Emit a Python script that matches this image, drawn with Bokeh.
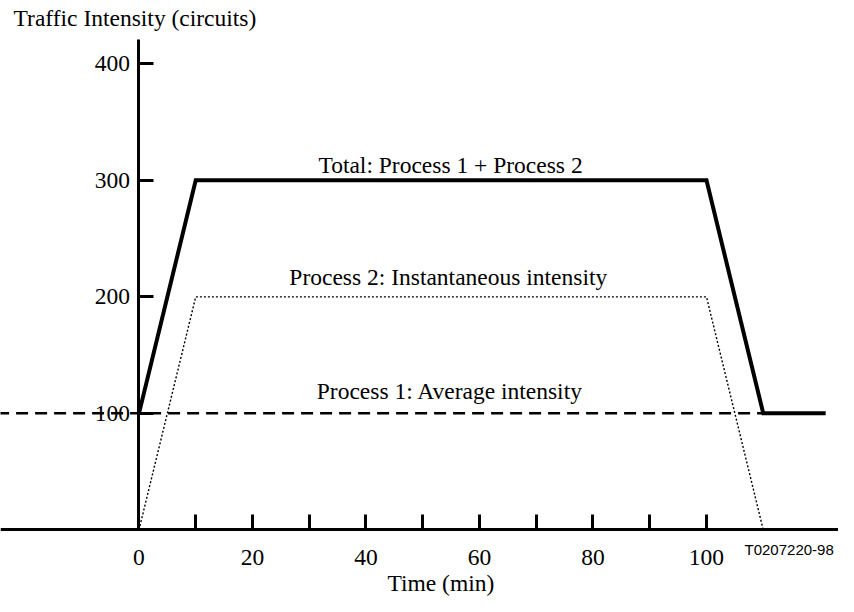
from bokeh.plotting import figure
from bokeh.models import LinearAxis, FixedTicker, Range1d, Label
from bokeh.embed import file_html
from bokeh.resources import INLINE

# Data
total_x = [0, 10, 100, 110, 121]
total_y = [100, 300, 300, 100, 100]
p2_x = [0, 10, 100, 110]
p2_y = [0, 200, 200, 0]
p1_x = [-25, 110]
p1_y = [100, 100]
x_ticks = [0, 10, 20, 30, 40, 50, 60, 70, 80, 90, 100]
x_tick_labels = {10: "", 30: "", 50: "", 70: "", 90: ""}
y_ticks = [100, 200, 300, 400]

SERIF = "Liberation Serif"
FS = "23.5px"

p = figure(width=838, height=596, x_range=Range1d(-24.4, 123.26), y_range=Range1d(-57.2, 454.4),
           output_backend="svg", toolbar_location=None,
           x_axis_location=None, y_axis_location=None, min_border=0)
p.grid.visible = False
p.outline_line_color = None
p.background_fill_color = "white"
p.border_fill_color = "white"

xaxis = LinearAxis(fixed_location=0, ticker=FixedTicker(ticks=x_ticks))
xaxis.major_label_overrides = x_tick_labels
yaxis = LinearAxis(fixed_location=0, ticker=FixedTicker(ticks=y_ticks), bounds=(0, 421))
for ax in (xaxis, yaxis):
    ax.axis_line_width = 3
    ax.axis_line_color = "black"
    ax.major_tick_line_width = 3
    ax.major_tick_line_color = "black"
    ax.major_tick_in = 15
    ax.major_tick_out = 0
    ax.minor_tick_line_color = None
    ax.major_label_text_font = SERIF
    ax.major_label_text_font_size = FS
    ax.major_label_text_color = "black"
xaxis.major_label_standoff = 20
yaxis.major_label_standoff = 9
p.add_layout(xaxis, "below")
p.add_layout(yaxis, "left")

p.line(p1_x, p1_y, line_color="black", line_width=2.5, line_dash="12 7")
p.line(p2_x, p2_y, line_color="black", line_width=1.4, line_dash="2 2")
p.line(total_x, total_y, line_color="black", line_width=4, line_join="miter")

def lab(x, y, t, align="center", font=SERIF, size=FS):
    p.add_layout(Label(x=x, y=y, text=t, text_align=align, text_baseline="alphabetic",
                       text_font=font, text_font_size=size, text_color="black"))

lab(-22.1, 439, "Traffic Intensity (circuits)", align="left")
lab(54.9, 313, "Total: Process 1 + Process 2")
lab(54.5, 216.7, "Process 2: Instantaneous intensity")
lab(54.8, 118.8, "Process 1: Average intensity")
lab(53.2, -45.5, "Time (min)")
lab(106.7, -16.8, "T0207220-98", align="left", font="Liberation Sans", size="15px")

open("out.html", "w").write(file_html(p, INLINE))
